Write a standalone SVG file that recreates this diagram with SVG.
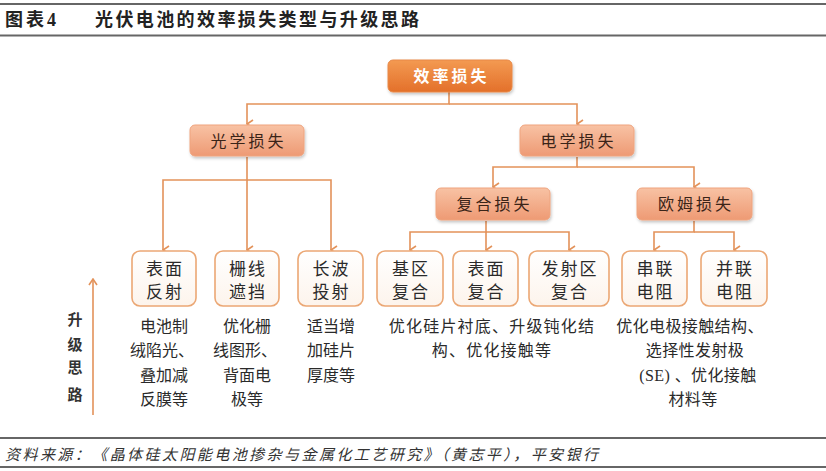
<svg xmlns="http://www.w3.org/2000/svg" width="826" height="471" viewBox="0 0 826 471">
<defs>
<linearGradient id="gTop" x1="0" y1="0" x2="0" y2="1"><stop offset="0" stop-color="#F39A52"/><stop offset="1" stop-color="#E3702A"/></linearGradient>
<linearGradient id="gMid" x1="0" y1="0" x2="0" y2="1"><stop offset="0" stop-color="#F8C2A4"/><stop offset="1" stop-color="#EE9A74"/></linearGradient>
<linearGradient id="gLeaf" x1="0" y1="0" x2="0" y2="1"><stop offset="0" stop-color="#FFFFFF"/><stop offset="1" stop-color="#FDF4EC"/></linearGradient>
<filter id="sh" x="-10%" y="-20%" width="120%" height="150%"><feDropShadow dx="1" dy="2" stdDeviation="1.5" flood-color="#000" flood-opacity="0.22"/></filter>
<marker id="arr" viewBox="0 0 10 8" refX="5" refY="7" markerWidth="10" markerHeight="8" markerUnits="userSpaceOnUse" orient="auto-start-reverse">
<path d="M1,1 L5,7 L9,1" fill="none" stroke="#E3925A" stroke-width="1.6"/>
</marker>
<marker id="arrv" viewBox="0 0 8 10" refX="7" refY="5" markerWidth="8" markerHeight="10" markerUnits="userSpaceOnUse" orient="auto">
<path d="M1,1 L7,5 L1,9" fill="none" stroke="#E3925A" stroke-width="1.6"/>
</marker>
</defs>
<style>
text{font-family:"Liberation Serif","Noto Sans CJK SC",serif;}
.title{font-size:18px;font-weight:bold;fill:#222;}
.foot{font-size:15px;font-style:italic;fill:#333;}
.rule{stroke:#666;stroke-width:2;fill:none;}
.n0 rect{fill:url(#gTop);stroke:#E98846;stroke-width:1;filter:url(#sh);}
.n0 text{font-size:16px;fill:#fff;font-weight:bold;letter-spacing:3px;text-anchor:middle;}
.n1 rect{fill:url(#gMid);stroke:#EFA47F;stroke-width:1;filter:url(#sh);}
.n1 text{font-size:16px;fill:#3a2418;letter-spacing:3px;text-anchor:middle;}
.n2 rect{fill:url(#gLeaf);stroke:#EBA774;stroke-width:1.6;}
.n2 text{font-size:17px;fill:#2a2a2a;letter-spacing:2px;text-anchor:middle;}
.desc text{font-size:16px;fill:#2a2a2a;text-anchor:middle;}
.conn path{fill:none;stroke:#E3925A;stroke-width:1.6;}
.side{font-size:15px;font-weight:bold;fill:#333;text-anchor:middle;}
</style>

<line class="rule" x1="0" y1="4" x2="826" y2="4"/>
<line class="rule" x1="0" y1="35.5" x2="826" y2="35.5"/>
<text class="title" x="5" y="26" textLength="51" lengthAdjust="spacing">图表4</text>
<text class="title" x="95" y="26" textLength="324" lengthAdjust="spacing">光伏电池的效率损失类型与升级思路</text>

<g id="connectors" class="conn">
<path d="M449,92 V104 H247 V124" marker-end="url(#arr)"/>
<path d="M449,104 H577 V124" marker-end="url(#arr)"/>
<path d="M247,157 V180 H163 V250" marker-end="url(#arr)"/>
<path d="M247,180 V250" marker-end="url(#arr)"/>
<path d="M247,180 H331 V250" marker-end="url(#arr)"/>
<path d="M577,157 V167 H493 V187" marker-end="url(#arr)"/>
<path d="M577,167 H694 V187" marker-end="url(#arr)"/>
<path d="M486,221 V232 H410 V250" marker-end="url(#arr)"/>
<path d="M486,232 V250" marker-end="url(#arr)"/>
<path d="M486,232 H569 V250" marker-end="url(#arr)"/>
<path d="M694,221 V232 H654 V250" marker-end="url(#arr)"/>
<path d="M694,232 H734 V250" marker-end="url(#arr)"/>
<path d="M93,415 V279" marker-end="url(#arrv)"/>
</g>

<g id="n-efficiency-loss" class="n0"><rect x="388" y="60" width="124" height="32" rx="5"/><text x="451.5" y="82">效率损失</text></g>

<g id="n-optical-loss" class="n1"><rect x="190" y="125" width="114" height="31" rx="5"/><text x="248.5" y="146.5">光学损失</text></g>
<g id="n-electrical-loss" class="n1"><rect x="520" y="125" width="114" height="31" rx="5"/><text x="578.5" y="146.5">电学损失</text></g>
<g id="n-recombination-loss" class="n1"><rect x="436" y="188" width="114" height="32" rx="5"/><text x="494.5" y="210">复合损失</text></g>
<g id="n-ohmic-loss" class="n1"><rect x="637" y="188" width="115" height="32" rx="5"/><text x="696" y="210">欧姆损失</text></g>

<g id="n-surface-reflection" class="n2"><rect x="132" y="251" width="64" height="55" rx="8"/><text x="165" y="275">表面</text><text x="165" y="297.5">反射</text></g>
<g id="n-grid-shading" class="n2"><rect x="215" y="251" width="64" height="55" rx="8"/><text x="248" y="275">栅线</text><text x="248" y="297.5">遮挡</text></g>
<g id="n-longwave-transmission" class="n2"><rect x="298" y="251" width="65" height="55" rx="8"/><text x="331.5" y="275">长波</text><text x="331.5" y="297.5">投射</text></g>
<g id="n-base-recombination" class="n2"><rect x="377" y="251" width="66" height="55" rx="8"/><text x="411" y="275">基区</text><text x="411" y="297.5">复合</text></g>
<g id="n-surface-recombination" class="n2"><rect x="453" y="251" width="65" height="55" rx="8"/><text x="486.5" y="275">表面</text><text x="486.5" y="297.5">复合</text></g>
<g id="n-emitter-recombination" class="n2"><rect x="529" y="251" width="80" height="55" rx="8"/><text x="570" y="275">发射区</text><text x="570" y="297.5">复合</text></g>
<g id="n-series-resistance" class="n2"><rect x="622" y="251" width="65" height="55" rx="8"/><text x="655.5" y="275">串联</text><text x="655.5" y="297.5">电阻</text></g>
<g id="n-shunt-resistance" class="n2"><rect x="701" y="251" width="66" height="55" rx="8"/><text x="735" y="275">并联</text><text x="735" y="297.5">电阻</text></g>

<g id="desc-col1" class="desc">
<text x="164" y="331.5">电池制</text><text x="162" y="356">绒陷光、</text><text x="164" y="380.5">叠加减</text><text x="164" y="405">反膜等</text>
</g>
<g id="desc-col2" class="desc">
<text x="247" y="331.5">优化栅</text><text x="245" y="356">线图形、</text><text x="247" y="380.5">背面电</text><text x="247" y="405">极等</text>
</g>
<g id="desc-col3" class="desc">
<text x="331" y="331.5">适当增</text><text x="331" y="356">加硅片</text><text x="331" y="380.5">厚度等</text>
</g>
<g id="desc-recomb" class="desc" style="letter-spacing:1.2px">
<text x="492" y="331.5">优化硅片衬底、升级钝化结</text><text x="492" y="356">构、优化接触等</text>
</g>
<g id="desc-ohmic" class="desc" style="letter-spacing:0.4px">
<text x="690" y="331.5">优化电极接触结构、</text><text x="695" y="356">选择性发射极</text><text x="698" y="380.5">(SE) 、优化接触</text><text x="693" y="405">材料等</text>
</g>

<g id="side-label">
<text class="side" x="75" y="325">升</text><text class="side" x="75" y="350">级</text><text class="side" x="75" y="373">思</text><text class="side" x="75" y="400">路</text>
</g>

<line class="rule" x1="0" y1="438" x2="826" y2="438"/>
<line class="rule" x1="0" y1="467" x2="826" y2="467"/>
<text class="foot" x="5" y="460" textLength="593" lengthAdjust="spacing">资料来源：《晶体硅太阳能电池掺杂与金属化工艺研究》（黄志平），平安银行</text>
</svg>
